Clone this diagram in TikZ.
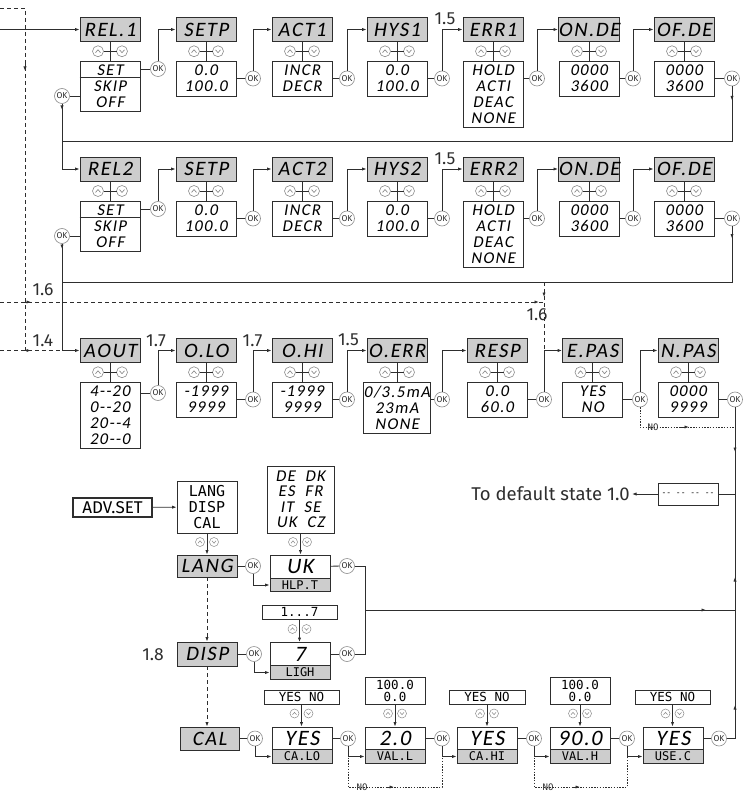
\documentclass[tikz,border=0pt]{standalone}
\usepackage{fontspec}
\setmainfont{Fira Sans}
\newfontfamily\lcdfont[FakeSlant=0.16,LetterSpace=8]{Carlito}
\newfontfamily\mfont{DejaVu Sans Mono}
\usetikzlibrary{arrows.meta,calc}
\definecolor{ln}{HTML}{2E2E2E}
\definecolor{hd}{HTML}{CDCDCD}
\definecolor{okc}{HTML}{8C8C8C}
\tikzset{
  ar/.style={-{Latex[length=4.5pt,width=3.2pt]}},
  hdr/.style={draw=ln, fill=hd, minimum width=60pt, minimum height=24pt, inner sep=0pt, font=\lcdfont\fontsize{20.5}{20.5}\selectfont},
  bod/.style={draw=ln, fill=white, minimum width=60pt, inner sep=0pt, align=center, font=\lcdfont\fontsize{16.5}{16}\selectfont},
  okn/.style={circle, draw=okc, fill=white, line width=0.6pt, minimum size=15pt, inner sep=0pt, font=\fontsize{8.5}{8.5}\selectfont, text=ln},
  lbl/.style={font=\fontsize{17.5}{17.5}\selectfont, text=ln, inner sep=0pt},
  dsh/.style={dash pattern=on 4pt off 3pt},
  dotl/.style={dash pattern=on 1.4pt off 1.4pt},
  vbox/.style={draw=ln, fill=white, minimum width=60pt, minimum height=23pt, inner sep=0pt, font=\lcdfont\fontsize{22}{22}\selectfont},
  strip/.style={draw=ln, fill=hd, minimum width=60pt, minimum height=13.5pt, inner sep=0pt, font=\mfont\fontsize{12}{12}\selectfont},
  rng/.style={draw=ln, fill=white, inner sep=0pt, align=center, font=\mfont\fontsize{12.5}{12}\selectfont},
  notxt/.style={font=\mfont\fontsize{9}{9}\selectfont, text=ln, inner sep=0pt},
  pics/updn/.style={code={
    \draw[okc,fill=white,line width=0.6pt] (-12,0) circle[radius=5.5pt] (12,0) circle[radius=5.5pt];
    \draw[okc,line width=0.7pt] (-14.5,1.3) -- (-12,-1.3) -- (-9.5,1.3);
    \draw[okc,line width=0.7pt] (9.5,-1.3) -- (12,1.3) -- (14.5,-1.3);
    \draw[ln] (-6.5,0) -- (6.5,0);
  }},
  pics/updns/.style={code={
    \draw[okc,fill=white,line width=0.5pt] (-7,0) circle[radius=4.5pt] (7,0) circle[radius=4.5pt];
    \draw[okc,line width=0.6pt] (-9,1.1) -- (-7,-1.1) -- (-5,1.1);
    \draw[okc,line width=0.6pt] (5,-1.1) -- (7,1.1) -- (9,-1.1);
  }},
}
\newcommand\mnu[7]{%
  \node[hdr] (h#1) at (#2,#3) {#6};
  \node[bod, minimum height=#5] (b#1) at (#2,#4) {#7};
  \draw[ln] (h#1.south) -- (b#1.north);
  \pic at ($(h#1.south)!0.5!(b#1.north)$) {updn};
}
\begin{document}
\begin{tikzpicture}[x=1pt,y=-1pt,line width=0.8pt,draw=ln]
\useasboundingbox (0,0) rectangle (744,794);

% ---------- Row 1 ----------
\mnu{11}{110}{29.5}{86}{50}{REL.1}{SET\\SKIP\\OFF}
\mnu{12}{206}{29.5}{78.5}{35}{SETP}{0.0\\100.0}
\mnu{13}{302}{29.5}{78.5}{35}{ACT1}{INCR\\DECR}
\mnu{14}{397}{29.5}{78.5}{35}{HYS1}{0.0\\100.0}
\mnu{15}{493}{29.5}{94}{66}{ERR1}{HOLD\\ACTI\\DEAC\\NONE}
\mnu{16}{589}{29.5}{78.5}{35}{ON.DE}{0000\\3600}
\mnu{17}{684}{29.5}{78.5}{35}{OF.DE}{0000\\3600}
\draw ($(b11.north west)+(0,16.5)$) -- ($(b11.north east)+(0,16.5)$);

\node[okn] (ok10) at (62,96) {OK};
\node[okn] (ok11) at (158,69) {OK};
\node[okn] (ok12) at (253,78.5) {OK};
\node[okn] (ok13) at (347,78.5) {OK};
\node[okn] (ok14) at (442,78.5) {OK};
\node[okn] (ok15) at (537,78.5) {OK};
\node[okn] (ok16) at (633,78.5) {OK};
\node[okn] (ok17) at (732,78.5) {OK};

\coordinate (in0) at (0,29.5);
\draw[ar] (in0) -- (h11);
\draw (b11.west |- ok10) -- (ok10);
\draw (b11.east |- ok11) -- (ok11);
\foreach \i in {2,...,7}{\draw (b1\i.east |- ok1\i) -- (ok1\i);}
\foreach \i/\j in {1/2,2/3,3/4,4/5,5/6,6/7}{\draw[ar] (ok1\i) |- (h1\j);}
\coordinate (j1) at (62,141);
\draw (ok17) |- (j1);
\draw[ar] (ok17) -- ++(0,22);

% ---------- Row 2 ----------
\mnu{21}{110}{169}{226}{50}{REL2}{SET\\SKIP\\OFF}
\mnu{22}{206}{169}{218.5}{35}{SETP}{0.0\\100.0}
\mnu{23}{302}{169}{218.5}{35}{ACT2}{INCR\\DECR}
\mnu{24}{397}{169}{218.5}{35}{HYS2}{0.0\\100.0}
\mnu{25}{493}{169}{234}{66}{ERR2}{HOLD\\ACTI\\DEAC\\NONE}
\mnu{26}{589}{169}{218.5}{35}{ON.DE}{0000\\3600}
\mnu{27}{684}{169}{218.5}{35}{OF.DE}{0000\\3600}
\draw ($(b21.north west)+(0,16.5)$) -- ($(b21.north east)+(0,16.5)$);

\node[okn] (ok20) at (62,236) {OK};
\node[okn] (ok21) at (158,209) {OK};
\node[okn] (ok22) at (253,218.5) {OK};
\node[okn] (ok23) at (347,218.5) {OK};
\node[okn] (ok24) at (442,218.5) {OK};
\node[okn] (ok25) at (537,218.5) {OK};
\node[okn] (ok26) at (633,218.5) {OK};
\node[okn] (ok27) at (732,218.5) {OK};

\draw[ar] (ok10) |- (h21);
\draw[ar] (ok10) -- ++(0,14);
\draw (b21.west |- ok20) -- (ok20);
\draw (b21.east |- ok21) -- (ok21);
\foreach \i in {2,...,7}{\draw (b2\i.east |- ok2\i) -- (ok2\i);}
\foreach \i/\j in {1/2,2/3,3/4,4/5,5/6,6/7}{\draw[ar] (ok2\i) |- (h2\j);}
\coordinate (j2) at (62,282);
\draw (ok27) |- (j2);
\draw[ar] (ok27) -- ++(0,20);

% ---------- Row 3 ----------
\mnu{31}{110}{350.5}{415}{66}{AOUT}{4-{}-20\\0-{}-20\\20-{}-4\\20-{}-0}
\mnu{32}{206}{350.5}{399.5}{35}{O.LO}{-1999\\9999}
\mnu{33}{302}{350.5}{399.5}{35}{O.HI}{-1999\\9999}
\mnu{34}{397}{350.5}{407.5}{51}{O.ERR}{0/3.5mA\\23mA\\NONE}
\mnu{35}{497}{350.5}{399.5}{35}{RESP}{0.0\\60.0}
\mnu{36}{592.5}{350.5}{399.5}{35}{E.PAS}{YES\\NO}
\mnu{37}{688}{350.5}{399.5}{35}{N.PAS}{0000\\9999}

\node[okn] (ok31) at (158,393) {OK};
\node[okn] (ok32) at (253,399.5) {OK};
\node[okn] (ok33) at (347,399.5) {OK};
\node[okn] (ok34) at (442,399.5) {OK};
\node[okn] (ok35) at (544,399.5) {OK};
\node[okn] (ok36) at (640,399.5) {OK};
\node[okn] (ok37) at (735,399.5) {OK};

\draw[ar] (ok20) |- (h31);
\draw[ar] (ok20) -- ++(0,13);
\foreach \i in {1,...,7}{\draw (b3\i.east |- ok3\i) -- (ok3\i);}
\foreach \i/\j in {1/2,2/3,3/4,4/5,5/6,6/7}{\draw[ar] (ok3\i) |- (h3\j);}

% dashed jumps on the left
\coordinate (d0) at (0,8);
\coordinate (d1) at (25,8);
\coordinate (d2) at (25,350.5);
\draw[dsh] (d0) -- (d1) -- (d2);
\draw[ar] (25,63) -- (25,71);
\coordinate (e0) at (0,302);
\coordinate (e1) at (544,302);
\draw[dsh] (e0) -- (e1);
\draw[ar] (23,302) -- (31,302);
\draw[ar] (531,302) -- (539,302);
\coordinate (f0) at (0,350.5);
\coordinate (f1) at (62,350.5);
\draw[dsh] (f0) -- (f1);
\draw[ar] (23,350.5) -- (31,350.5);
\coordinate (g0) at (544,282);
\coordinate (g1) at (544,350.5);
\draw[dsh] (g0) -- (g1);
\draw[ar] (544,289) -- (544,297);

\node[lbl] (l15a) at (445,18.5) {1.5};
\node[lbl] (l15b) at (445,159) {1.5};
\node[lbl] (l17a) at (156,341) {1.7};
\node[lbl] (l17b) at (252.5,341) {1.7};
\node[lbl] (l15c) at (348.5,340) {1.5};
\node[lbl] (l16a) at (43,290) {1.6};
\node[lbl] (l14) at (43,341) {1.4};
\node[lbl] (l16b) at (537,315) {1.6};

% E.PAS NO branch
\coordinate (k0) at (640,427);
\coordinate (k1) at (735,427);
\draw[dotl] (ok36) -- (k0) -- (k1);
\draw[ar] (681,427) -- (689,427);
\node[notxt] (no0) at (653,427) {NO};

% right return line
\coordinate (v1) at (735,452);
\draw[ar] (ok37) -- (v1);

% default state
\node[draw=ln, minimum width=60pt, minimum height=22pt, inner sep=0pt, font=\mfont\fontsize{8}{8}\selectfont] (dflt) at (688,494) {-{}- -{}- -{}- -{}-};
\node[lbl, anchor=east, inner sep=2pt, font=\fontsize{18.5}{18.5}\selectfont] (tdf) at (632,494) {To default state 1.0};
\draw (dflt) -- (dflt -| ok37);
\draw[ar] (dflt) -- (tdf);

% ---------- Advanced settings ----------
\node[draw=ln, line width=1.8pt, minimum width=79pt, minimum height=19pt, inner sep=1pt, font=\fontsize{17}{17}\selectfont] (adv) at (112.5,507.5) {ADV.SET};
\node[draw=ln, minimum width=60pt, minimum height=52pt, inner sep=0pt, align=center, font=\mfont\fontsize{15}{16}\selectfont] (lds) at (207,507) {LANG\\DISP\\CAL};
\draw[ar] (adv) -- (lds);

\node[hdr, minimum height=22pt] (hlang) at (207,566) {LANG};
\draw[ar] (lds) -- (hlang);
\pic at (207,542) {updns};

\node[draw=ln, minimum width=67pt, minimum height=67pt, inner sep=0pt, align=center, font=\lcdfont\fontsize{16.5}{15.5}\selectfont] (lng) at (300.5,499.5) {DE\hspace{10pt}DK\\ES\hspace{10pt}FR\\IT\hspace{10pt}SE\\UK\hspace{10pt}CZ};
\node[vbox] (uk) at (300,566.5) {UK};
\node[strip] (hlp) at (300,585) {HLP.T};
\draw[ar] (lng.south) -- (lng.south |- uk.north);
\pic at (300,542) {updns};

\node[okn] (oklang) at (253,566) {OK};
\node[okn] (okuk) at (347,566) {OK};
\draw (hlang) -- (oklang);
\draw[ar] (oklang) |- (hlp.west);
\draw (uk) -- (okuk);

\node[rng, minimum width=75pt, minimum height=14pt] (r17) at (299.5,612) {1...7};
\node[vbox] (seven) at (300,654) {7};
\node[strip] (ligh) at (300,672.5) {LIGH};
\draw[ar] (r17.south) -- (r17.south |- seven.north);
\pic at (299.5,629) {updns};

\node[hdr] (hdisp) at (207,654) {DISP};
\node[lbl] (l18) at (153,655) {1.8};
\node[okn] (okdisp) at (254,654) {OK};
\node[okn] (ok7) at (347,654) {OK};
\draw (hdisp) -- (okdisp);
\draw[ar] (okdisp) |- (ligh.west);
\draw (seven) -- (ok7);
\draw[ar,dsh] (hlang.south) -- (hlang.south |- hdisp.north);

\coordinate (jx) at (365,610);
\coordinate (jr) at (735,610);
\coordinate (jm) at (706,610);
\draw (okuk) -- (okuk -| jx) -- (jx |- ok7) -- (ok7);
\draw (jx) -- (jr);
\draw[ar] (jx) -- (jm);

% CAL row
\node[hdr, minimum height=23pt, minimum width=59pt] (hcal) at (209.5,738.5) {CAL};
\draw[ar,dsh] (hdisp.south) -- (hdisp.south |- hcal.north);

\node[rng, minimum width=75pt, minimum height=14pt] (yn1) at (301.5,697) {YES NO};
\node[vbox] (yes1) at (302,738.5) {YES};
\node[strip] (calo) at (302,756.5) {CA.LO};
\node[rng, minimum width=60pt, minimum height=27pt] (rv1) at (395,690.5) {100.0\\0.0};
\node[vbox] (val1) at (395,738.5) {2.0};
\node[strip] (vall) at (395,756.5) {VAL.L};
\node[rng, minimum width=76pt, minimum height=14pt] (yn2) at (487,697) {YES NO};
\node[vbox] (yes2) at (487,738.5) {YES};
\node[strip] (cahi) at (487,756.5) {CA.HI};
\node[rng, minimum width=60pt, minimum height=27pt] (rv2) at (580,690.5) {100.0\\0.0};
\node[vbox] (val2) at (580,738.5) {90.0};
\node[strip] (valh) at (580,756.5) {VAL.H};
\node[rng, minimum width=75pt, minimum height=14pt] (yn3) at (672.5,697) {YES NO};
\node[vbox] (yes3) at (673,738.5) {YES};
\node[strip] (usec) at (673,756.5) {USE.C};

\draw[ar] (yn1.south) -- (yn1.south |- yes1.north);
\draw[ar] (rv1.south) -- (rv1.south |- val1.north);
\draw[ar] (yn2.south) -- (yn2.south |- yes2.north);
\draw[ar] (rv2.south) -- (rv2.south |- val2.north);
\draw[ar] (yn3.south) -- (yn3.south |- yes3.north);
\pic at (301.5,713.5) {updns};
\pic at (395,713.5) {updns};
\pic at (487,713.5) {updns};
\pic at (580,713.5) {updns};
\pic at (672.5,713.5) {updns};

\node[okn] (okcal) at (255,738.5) {OK};
\node[okn] (okA) at (348,738.5) {OK};
\node[okn] (okB) at (442,738.5) {OK};
\node[okn] (okC) at (534,738.5) {OK};
\node[okn] (okD) at (627,738.5) {OK};
\node[okn] (okE) at (719,738.5) {OK};

\draw (hcal) -- (okcal);
\draw[ar] (okcal) |- (calo.west);
\draw (yes1) -- (okA);
\draw[ar] (okA) |- (vall.west);
\draw (val1) -- (okB);
\draw[ar] (okB) |- (cahi.west);
\draw (yes2) -- (okC);
\draw[ar] (okC) |- (valh.west);
\draw (val2) -- (okD);
\draw[ar] (okD) |- (usec.west);
\draw (yes3) -- (okE);
\draw (okE) -| (ok37);
\coordinate (u1) at (735,705);
\coordinate (u2) at (735,577);
\draw[ar] (okE -| ok37) -- (u1);
\draw[ar] (jr) -- (u2);

% NO branches
\coordinate (nA) at (348,787);
\coordinate (nB) at (442,787);
\draw[dotl] (okA) -- (nA) -- (nB) -- (okB);
\draw[ar] (386,787) -- (394,787);
\node[notxt] (no1) at (362,787) {NO};
\coordinate (nC) at (534,787);
\coordinate (nD) at (627,787);
\draw[dotl] (okC) -- (nC) -- (nD) -- (okD);
\draw[ar] (572,787) -- (580,787);
\node[notxt] (no2) at (548,787) {NO};
\end{tikzpicture}
\end{document}
